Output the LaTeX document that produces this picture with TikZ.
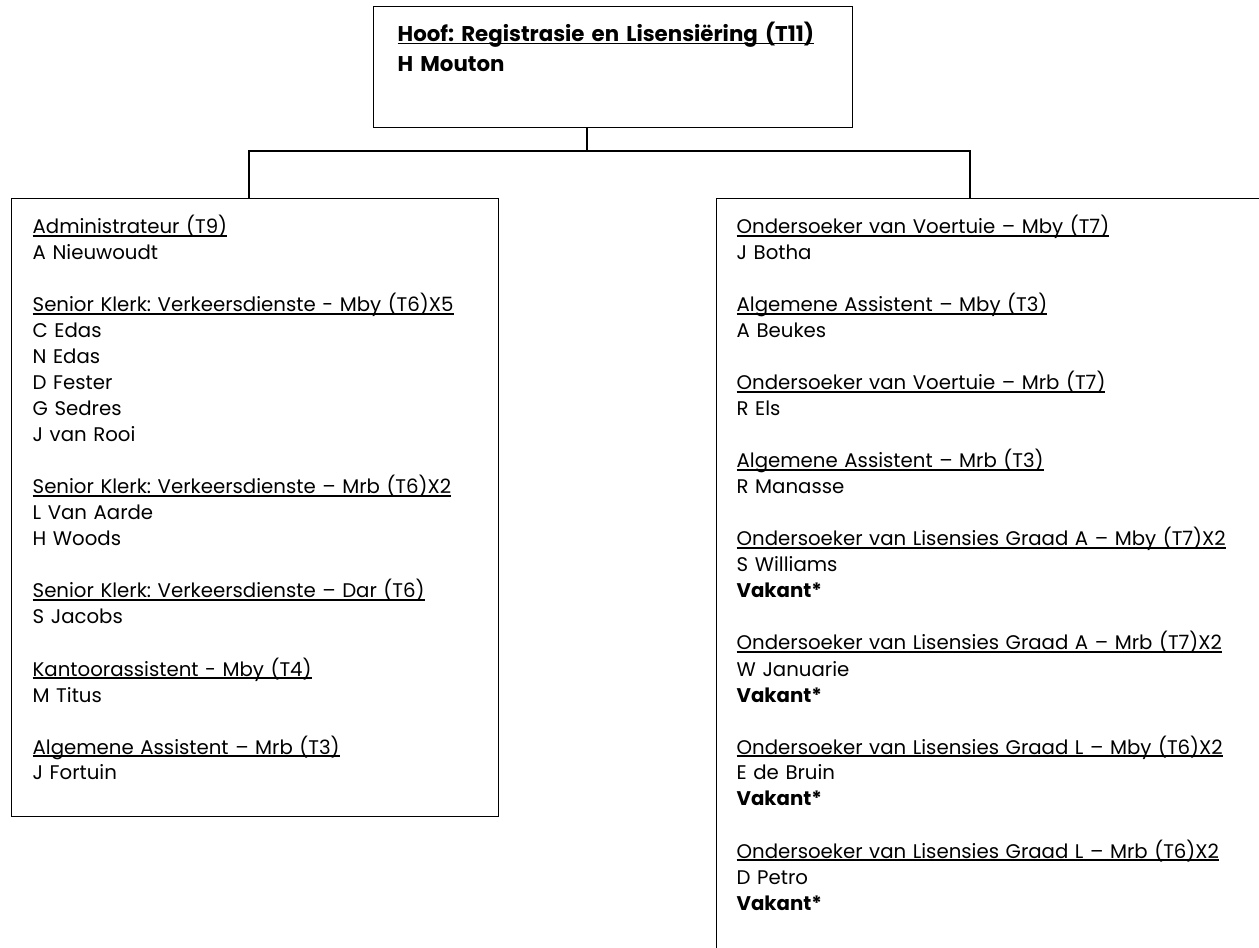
\documentclass[tikz,border=0pt]{standalone}
\usepackage{fontspec}
\setmainfont{Poppins}
\frenchspacing
\newsavebox{\posbox}
\newcommand{\pos}[1]{\leavevmode\sbox{\posbox}{#1}\rlap{\rule[-2pt]{\wd\posbox}{0.9pt}}\usebox{\posbox}}

\tikzset{
	orgbox/.style={draw, line width=1pt, anchor=north west, align=left, inner ysep=0pt,
		font=\fontsize{14.8pt}{19.5pt}\selectfont},
	orgline/.style={line width=1pt}
}

\begin{document}
\begin{tikzpicture}[x=0.75pt, y=-0.75pt]
	\clip (0,0) rectangle (1259,948);

	%% Hoof
	\node[orgbox, inner xsep=18pt, text width=323pt, text height=26pt, text depth=64.75pt,
		font=\fontsize{16pt}{22.5pt}\selectfont\bfseries] (hoof) at (373,6)
		{\pos{Hoof: Registrasie en Lisensiëring (T11)}\\
		H Mouton};

	%% Administrasie
	\node[orgbox, inner xsep=15.75pt, text width=333.75pt, text height=26.5pt, text depth=437pt] (admin) at (11,198)
		{\pos{Administrateur (T9)}\\
		A Nieuwoudt\\[19.5pt]
		\pos{Senior Klerk: Verkeersdienste - Mby (T6)X5}\\
		C Edas\\
		N Edas\\
		D Fester\\
		G Sedres\\
		J van Rooi\\[19.5pt]
		\pos{Senior Klerk: Verkeersdienste – Mrb (T6)X2}\\
		L Van Aarde\\
		H Woods\\[19.5pt]
		\pos{Senior Klerk: Verkeersdienste – Dar (T6)}\\
		S Jacobs\\[19.5pt]
		\pos{Kantoorassistent - Mby (T4)}\\
		M Titus\\[19.5pt]
		\pos{Algemene Assistent – Mrb (T3)}\\
		J Fortuin};

	%% Ondersoekers
	\node[orgbox, inner xsep=15pt, text width=400pt, text height=26.5pt, text depth=557.5pt] (toets) at (716,198)
		{\pos{Ondersoeker van Voertuie – Mby (T7)}\\
		J Botha\\[19.5pt]
		\pos{Algemene Assistent – Mby (T3)}\\
		A Beukes\\[19.5pt]
		\pos{Ondersoeker van Voertuie – Mrb (T7)}\\
		R Els\\[19.5pt]
		\pos{Algemene Assistent – Mrb (T3)}\\
		R Manasse\\[19.5pt]
		\pos{Ondersoeker van Lisensies Graad A – Mby (T7)X2}\\
		S Williams\\
		\textbf{Vakant*}\\[19.5pt]
		\pos{Ondersoeker van Lisensies Graad A – Mrb (T7)X2}\\
		W Januarie\\
		\textbf{Vakant*}\\[19.5pt]
		\pos{Ondersoeker van Lisensies Graad L – Mby (T6)X2}\\
		E de Bruin\\
		\textbf{Vakant*}\\[19.5pt]
		\pos{Ondersoeker van Lisensies Graad L – Mrb (T6)X2}\\
		D Petro\\
		\textbf{Vakant*}};

	%% Verbindings
	\coordinate (split) at (587,151);
	\coordinate (links) at (249,151);
	\coordinate (regs) at (970,151);
	\draw[orgline] (hoof.south -| split) -- (split);
	\draw[orgline] (admin.north -| links) -- (links) -- (regs) -- (toets.north -| regs);
\end{tikzpicture}
\end{document}
